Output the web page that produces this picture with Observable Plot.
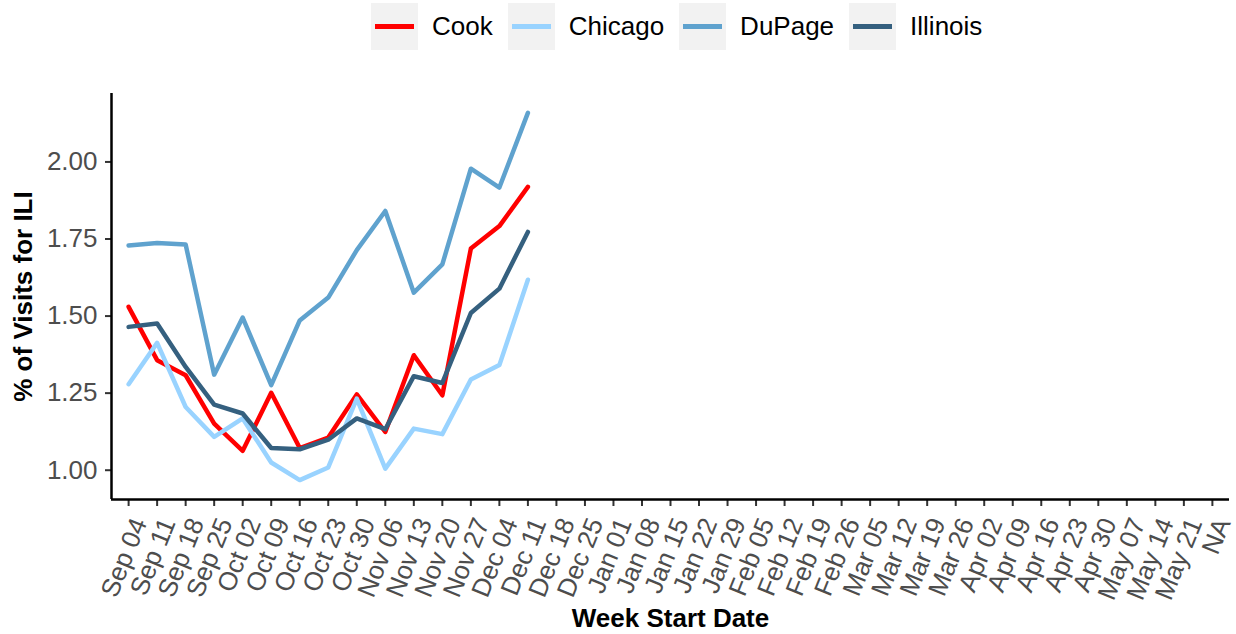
<!DOCTYPE html>
<html>
<head>
<meta charset="utf-8">
<script src="https://cdn.jsdelivr.net/npm/d3@7"></script>
<script src="https://cdn.jsdelivr.net/npm/@observablehq/plot@0.6"></script>
<style>
  html, body { margin: 0; padding: 0; background: white; }
  body { width: 1236px; height: 634px; overflow: hidden; font-family: "Liberation Sans", Arial, Helvetica, sans-serif; }
  #legend { position: relative; height: 55px; display: flex; align-items: flex-start; padding-left: 371px; box-sizing: border-box; }
  .item { display: flex; align-items: center; margin-top: 3px; }
  .key { width: 47px; height: 47px; background: #f2f2f2; position: relative; }
  .key span { position: absolute; left: 4px; right: 4px; top: 21px; height: 5px; }
  .lab { font-size: 26px; color: black; margin-left: 14px; margin-right: 15px; line-height: 47px; }
</style>
</head>
<body>
<div id="legend"></div>
<div id="chart"></div>
<script>
const weeks = ["Sep 04","Sep 11","Sep 18","Sep 25","Oct 02","Oct 09","Oct 16","Oct 23","Oct 30",
  "Nov 06","Nov 13","Nov 20","Nov 27","Dec 04","Dec 11","Dec 18","Dec 25","Jan 01","Jan 08",
  "Jan 15","Jan 22","Jan 29","Feb 05","Feb 12","Feb 19","Feb 26","Mar 05","Mar 12","Mar 19",
  "Mar 26","Apr 02","Apr 09","Apr 16","Apr 23","Apr 30","May 07","May 14","May 21","NA"];
const regions = ["Cook", "Chicago", "DuPage", "Illinois"];
const colors = ["#ff0000", "#99d3ff", "#5fa2ce", "#35607f"];
const yTicks = [1.00, 1.25, 1.50, 1.75, 2.00];

const cook     = [1.530, 1.357, 1.308, 1.151, 1.063, 1.251, 1.072, 1.106, 1.246, 1.124, 1.373, 1.243, 1.719, 1.792, 1.919];
const chicago  = [1.279, 1.413, 1.205, 1.108, 1.168, 1.025, 0.968, 1.009, 1.232, 1.005, 1.135, 1.117, 1.294, 1.341, 1.618];
const dupage   = [1.729, 1.737, 1.732, 1.310, 1.495, 1.276, 1.486, 1.560, 1.714, 1.841, 1.576, 1.668, 1.978, 1.917, 2.159];
const illinois = [1.465, 1.476, 1.335, 1.213, 1.184, 1.072, 1.068, 1.099, 1.168, 1.133, 1.305, 1.283, 1.510, 1.589, 1.773];

const seriesValues = [cook, chicago, dupage, illinois];
const table = [];
regions.forEach((r, k) => seriesValues[k].forEach((v, i) => table.push({i, week: weeks[i], value: v, region: r})));

// legend
const legend = document.getElementById("legend");
regions.forEach((r, k) => {
  const it = document.createElement("div");
  it.className = "item";
  it.innerHTML = `<div class="key"><span style="background:${colors[k]}"></span></div><div class="lab">${r}</div>`;
  legend.appendChild(it);
});

const yMin = 0.905, yMax = 2.222;
const xMin = -0.6, xMax = weeks.length - 1 + 0.6;
const font = '"Liberation Sans", Arial, Helvetica, sans-serif';

const chart = Plot.plot({
  width: 1236,
  height: 579,
  marginLeft: 111,
  marginRight: 7,
  marginTop: 38,
  marginBottom: 135,
  style: {fontFamily: font, fontSize: "26px", color: "#4d4d4d", background: "white", overflow: "visible"},
  x: {type: "linear", domain: [xMin, xMax]},
  y: {domain: [yMin, yMax]},
  color: {domain: regions, range: colors},
  marks: [
    Plot.axisY({ticks: yTicks, tickFormat: d3.format(".2f"), tickSize: 6, tickPadding: 8, fontSize: 26, label: null, strokeWidth: 2, stroke: "#333333", fill: "#4d4d4d"}),
    Plot.axisX({ticks: weeks.map((d, i) => i), tickFormat: i => weeks[i], tickRotate: -68, tickSize: 7, tickPadding: 4, fontSize: 26, label: null, strokeWidth: 2, stroke: "#333333", fill: "#4d4d4d"}),
    Plot.line(table, {x: "i", y: "value", z: "region", stroke: "region", strokeWidth: 4.5, strokeLinejoin: "round"}),
    Plot.ruleY([yMin], {stroke: "black", strokeWidth: 2.5}),
    Plot.ruleX([xMin], {stroke: "black", strokeWidth: 2.5}),
    Plot.text(["% of Visits for ILI"], {text: d => d, frameAnchor: "left", rotate: -90, dx: -88, textAnchor: "middle", lineAnchor: "middle", fontWeight: "bold", fontSize: 26, fill: "black"}),
    Plot.text(["Week Start Date"], {text: d => d, frameAnchor: "bottom", dy: 119, textAnchor: "middle", lineAnchor: "middle", fontWeight: "bold", fontSize: 26, fill: "black"})
  ]
});
document.getElementById("chart").appendChild(chart);

// shift rotated x tick labels to match the reference placement
chart.querySelectorAll('g[aria-label="x-axis tick label"]').forEach(g => {
  const t = g.getAttribute("transform") || "";
  g.setAttribute("transform", `translate(11,9) ${t}`);
});
</script>
</body>
</html>
